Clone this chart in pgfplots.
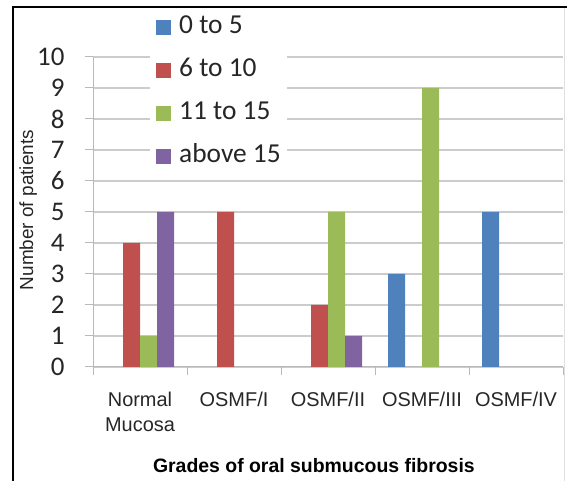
\documentclass[border=0pt]{standalone}
\usepackage{fontspec}
\setmainfont{Liberation Sans}
\newfontfamily\calfont{Carlito}
\usepackage{pgfplots}
\pgfplotsset{compat=1.18}
\definecolor{sBlue}{HTML}{4F81BD}
\definecolor{sRed}{HTML}{C0504D}
\definecolor{sGreen}{HTML}{9BBB59}
\definecolor{sPurple}{HTML}{8064A2}
\begin{document}
\begin{tikzpicture}[x=1bp,y=1bp]
\useasboundingbox (0,0) rectangle (567,481);
\draw[line width=2.2bp] (13,0) -- (13,474) -- (567,474);
\draw[gray!25, line width=0.8bp] (564,0) -- (564,473);
\begin{axis}[
  at={(93bp,114bp)}, anchor=south west,
  scale only axis, width=470bp, height=310bp,
  ymin=0, ymax=10, ytick={0,...,10},
  xmin=-0.5, xmax=4.5,
  ybar=0pt, bar width=17bp,
  axis x line*=bottom, axis y line*=left,
  axis line style={draw=gray!55, line width=1bp},
  ymajorgrids, grid style={draw=gray!40, line width=1.3bp},
  tick align=outside, major tick length=8bp,
  ytick style={draw=gray!55, line width=1bp},
  xtick={0,...,4},
  xticklabels={Normal\\Mucosa, OSMF/I, OSMF/II, OSMF/III, OSMF/IV},
  major x tick style={draw=none},
  minor xtick={-0.5,0.5,...,4.5},
  minor tick length=8bp,
  minor x tick style={draw=gray!55, line width=1bp},
  xticklabel style={font=\fontsize{20}{25}\selectfont, align=center, text=black!85, yshift=-14bp},
  yticklabel style={font=\calfont\fontsize{27}{27}\selectfont, text=black!85, xshift=-17bp},
  /pgf/number format/assume math mode=true,
  xlabel={\textbf{Grades of oral submucous fibrosis}},
  xlabel style={font=\fontsize{19.5}{23}\selectfont, at={(axis description cs:0.470,0)}, anchor=base, yshift=-106bp},
  ylabel={Number of patients},
  ylabel style={font=\fontsize{19}{22}\selectfont, at={(axis description cs:-0.138,0.506)}, anchor=center, text=black!85},
  legend style={at={(axis description cs:0.1213,1.1565)}, anchor=north west, draw=none, fill=white,
    font=\calfont\fontsize{27.5}{27.5}\selectfont, row sep=18bp, inner sep=6bp, text=black!85,
    nodes={inner sep=0pt, text height=19bp, text depth=6bp}},
  legend cell align=left,
]
\addplot[fill=sBlue, draw=none, legend image code/.code={\fill[sBlue] (0bp,-7.5bp) rectangle (15bp,7.5bp); \path (23bp,0bp);}]
  coordinates {(3,3) (4,5)};
\addplot[fill=sRed, draw=none, legend image code/.code={\fill[sRed] (0bp,-7.5bp) rectangle (15bp,7.5bp); \path (23bp,0bp);}]
  coordinates {(0,4) (1,5) (2,2)};
\addplot[fill=sGreen, draw=none, legend image code/.code={\fill[sGreen] (0bp,-7.5bp) rectangle (15bp,7.5bp); \path (23bp,0bp);}]
  coordinates {(0,1) (2,5) (3,9)};
\addplot[fill=sPurple, draw=none, legend image code/.code={\fill[sPurple] (0bp,-7.5bp) rectangle (15bp,7.5bp); \path (23bp,0bp);}]
  coordinates {(0,5) (2,1)};
\legend{0 to 5, 6 to 10, 11 to 15, above 15}
\end{axis}
\end{tikzpicture}
\end{document}
